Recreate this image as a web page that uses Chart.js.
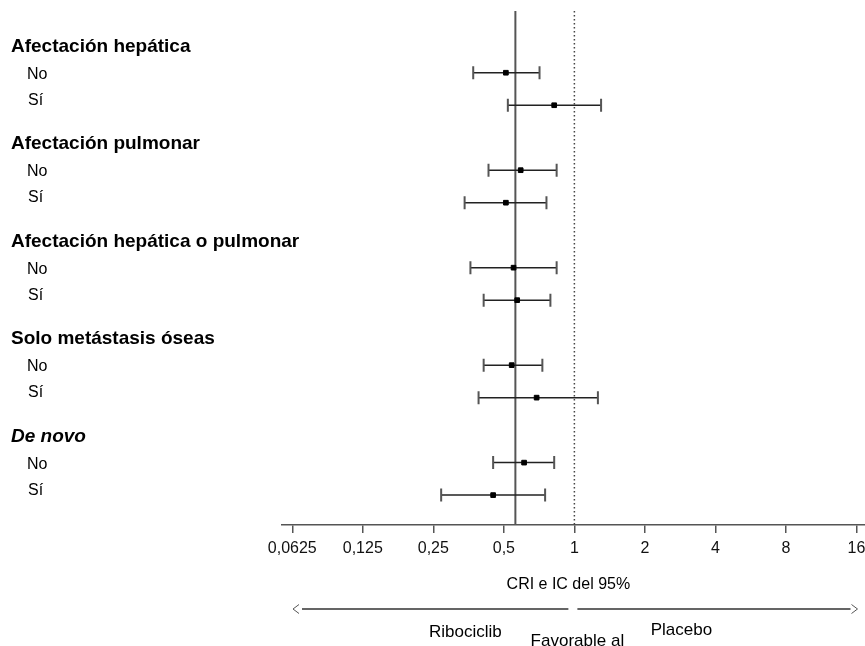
<!DOCTYPE html>
<html>
<head>
<meta charset="utf-8">
<script src="https://cdn.jsdelivr.net/npm/chart.js@4.4.1/dist/chart.umd.min.js"></script>
<style>
  html, body { margin: 0; background: #fff; overflow: hidden; }
  #wrap { width: 874px; height: 646px; }
</style>
</head>
<body>
<div id="wrap"><canvas id="forest"></canvas></div>
<script>
// subgroup headers and the two levels inside each one
const groups = ["Afectación hepática", "Afectación pulmonar", "Afectación hepática o pulmonar", "Solo metástasis óseas", "De novo"];
const levels = ["No", "Sí"];

// hazard ratio and 95% CI, row by row (No, Sí for each group)
const hr     = [0.51, 0.82, 0.59, 0.51, 0.55, 0.57, 0.54, 0.69, 0.61, 0.45];
const ciLow  = [0.37, 0.52, 0.43, 0.34, 0.36, 0.41, 0.41, 0.39, 0.45, 0.27];
const ciHigh = [0.71, 1.30, 0.84, 0.76, 0.84, 0.79, 0.73, 1.26, 0.82, 0.75];

const overallHr = 0.56;
const noEffect = 1;

const tickValues = [0.0625, 0.125, 0.25, 0.5, 1, 2, 4, 8, 16];

const xTitle = "CRI e IC del 95%";
const favoursLeft = "Ribociclib";
const favoursRight = "Placebo";
const favoursText = "Favorable al";

// row slot on the hidden y axis
function slot(g, s) { return 2 + 3 * g + s; }

const Y_MIN = 0.1, Y_MAX = 15.92;

const rows = [];
groups.forEach((g, gi) => levels.forEach((l, li) => rows.push({ gi, li, y: slot(gi, li) })));

const ciSets = rows.map((r, i) => ({
  label: "ci" + i,
  data: [{ x: ciLow[i], y: r.y }, { x: ciHigh[i], y: r.y }],
  showLine: true,
  borderColor: "#222",
  borderWidth: 1.5,
  pointRadius: 0,
  order: 3
}));

const caps = [];
rows.forEach((r, i) => { caps.push({ x: ciLow[i], y: r.y }); caps.push({ x: ciHigh[i], y: r.y }); });

const datasets = [
  {
    label: "overall",
    data: [{ x: overallHr, y: Y_MIN }, { x: overallHr, y: Y_MAX }],
    showLine: true, borderColor: "#555", borderWidth: 2, pointRadius: 0, order: 5
  },
  {
    label: "null",
    data: [{ x: noEffect, y: Y_MIN }, { x: noEffect, y: Y_MAX }],
    showLine: true, borderColor: "#444", borderWidth: 1.5, borderDash: [1.5, 2.5], pointRadius: 0, order: 5
  },
  ...ciSets,
  {
    label: "caps",
    data: caps,
    pointStyle: "line", rotation: 90, pointRadius: 6.5,
    borderColor: "#555", pointBorderWidth: 2, order: 2
  },
  {
    label: "hr",
    data: rows.map((r, i) => ({ x: hr[i], y: r.y })),
    pointStyle: "rect", pointRadius: 3.3,
    backgroundColor: "#000", borderColor: "#000", pointBorderWidth: 1, order: 1
  }
];

const labelsPlugin = {
  id: "forestLabels",
  afterDraw(chart) {
    const ctx = chart.ctx;
    const ys = chart.scales.y, xs = chart.scales.x, area = chart.chartArea;
    ctx.save();
    ctx.fillStyle = "#000";
    ctx.textBaseline = "middle";
    ctx.textAlign = "left";
    groups.forEach((g, gi) => {
      const italic = g === "De novo" ? "italic " : "";
      ctx.font = italic + "bold 19px 'Liberation Sans', Arial, sans-serif";
      ctx.fillText(g, 11, ys.getPixelForValue(slot(gi, 0) - 0.8));
      ctx.font = "16px 'Liberation Sans', Arial, sans-serif";
      ctx.fillText(levels[0], 27, ys.getPixelForValue(slot(gi, 0) + 0.05));
      ctx.fillText(levels[1], 28, ys.getPixelForValue(slot(gi, 1) - 0.15));
    });

    const x1 = xs.getPixelForValue(noEffect);
    ctx.textAlign = "center";
    ctx.font = "16px 'Liberation Sans', Arial, sans-serif";
    ctx.fillText(xTitle, x1 - 6, 585);

    // favours arrows
    ctx.strokeStyle = "#333";
    ctx.lineWidth = 1.5;
    ctx.beginPath();
    ctx.moveTo(area.left + 20, 609); ctx.lineTo(x1 - 6, 609);
    ctx.moveTo(x1 + 3, 609); ctx.lineTo(area.right - 15, 609);
    ctx.stroke();
    ctx.lineWidth = 1;
    ctx.strokeStyle = "#555";
    ctx.beginPath();
    ctx.moveTo(area.left + 17, 604.5); ctx.lineTo(area.left + 11, 609); ctx.lineTo(area.left + 17, 613.5);
    ctx.moveTo(area.right - 14, 604.5); ctx.lineTo(area.right - 8, 609); ctx.lineTo(area.right - 14, 613.5);
    ctx.stroke();

    ctx.font = "17px 'Liberation Sans', Arial, sans-serif";
    ctx.fillText(favoursLeft, x1 - 109, 632);
    ctx.fillText(favoursRight, x1 + 107, 630);
    ctx.fillText(favoursText, x1 + 3, 641);
    ctx.restore();
  }
};

new Chart(document.getElementById("forest"), {
  type: "scatter",
  data: { datasets },
  options: {
    responsive: true,
    maintainAspectRatio: false,
    animation: false,
    layout: { padding: { left: 282, right: 0, top: 11, bottom: 87 } },
    plugins: { legend: { display: false }, tooltip: { enabled: false } },
    scales: {
      x: {
        type: "logarithmic",
        min: 0.0565,
        max: 17.48,
        afterBuildTicks: (scale) => { scale.ticks = tickValues.map(v => ({ value: v })); },
        afterFit: (scale) => { scale.height = 34; },
        grid: { drawOnChartArea: false, drawTicks: true, tickLength: 8, color: "#555", lineWidth: 1.5 },
        border: { display: true, color: "#555", width: 1.5 },
        ticks: {
          color: "#111",
          padding: 6,
          maxRotation: 0,
          autoSkip: false,
          font: { family: "'Liberation Sans', Arial, sans-serif", size: 16 },
          callback: (v) => String(v).replace(".", ",")
        }
      },
      y: { type: "linear", min: Y_MIN, max: Y_MAX, reverse: true, display: false }
    }
  },
  plugins: [labelsPlugin]
});
</script>
</body>
</html>
